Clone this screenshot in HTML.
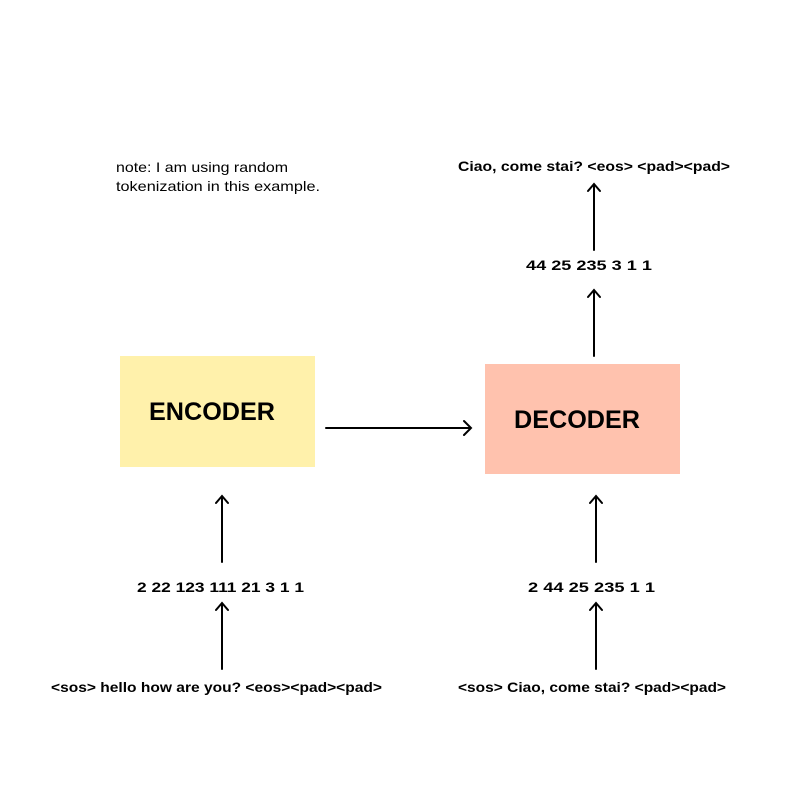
<!DOCTYPE html>
<html><head><meta charset="utf-8"><style>html,body{margin:0;padding:0;background:#fff}</style></head>
<body>
<svg width="802" height="802" viewBox="0 0 802 802" xmlns="http://www.w3.org/2000/svg" font-family="Liberation Sans, sans-serif">
<rect width="802" height="802" fill="#fff"/>
<rect x="120" y="356" width="195" height="111" fill="#fff1ab"/>
<rect x="485" y="364" width="195" height="110" fill="#ffc2ae"/>
<text x="149" y="420" font-size="25" font-weight="bold" textLength="126" lengthAdjust="spacingAndGlyphs">ENCODER</text>
<text x="514" y="428" font-size="25" font-weight="bold" textLength="126" lengthAdjust="spacingAndGlyphs">DECODER</text>
<g stroke="#000" stroke-width="2" fill="none" stroke-linecap="round">
<path d="M326 428H471M464 421L471 428L464 435"/>
<path d="M222 562V496M216 503L222 496L228 503"/>
<path d="M222 669V603M216 610L222 603L228 610"/>
<path d="M596 562V496M590 503L596 496L602 503"/>
<path d="M596 669V603M590 610L596 603L602 610"/>
<path d="M594 356V290M588 297L594 290L600 297"/>
<path d="M594 250V184M588 191L594 184L600 191"/>
</g>
<g font-size="14" font-weight="bold">
<text x="458" y="171" textLength="272" lengthAdjust="spacingAndGlyphs">Ciao, come stai? &lt;eos&gt;  &lt;pad&gt;&lt;pad&gt;</text>
<text x="526" y="270" textLength="126" lengthAdjust="spacingAndGlyphs">44  25  235  3  1  1</text>
<text x="137" y="592" textLength="167" lengthAdjust="spacingAndGlyphs">2  22  123  111  21  3  1  1</text>
<text x="528" y="592" textLength="127" lengthAdjust="spacingAndGlyphs">2  44  25  235  1  1</text>
<text x="51" y="692" textLength="331" lengthAdjust="spacingAndGlyphs">&lt;sos&gt; hello how are you? &lt;eos&gt;&lt;pad&gt;&lt;pad&gt;</text>
<text x="458" y="692" textLength="268" lengthAdjust="spacingAndGlyphs">&lt;sos&gt; Ciao, come stai? &lt;pad&gt;&lt;pad&gt;</text>
</g>
<g font-size="14">
<text x="116" y="172" textLength="172" lengthAdjust="spacingAndGlyphs">note: I am using random</text>
<text x="116" y="191" textLength="204" lengthAdjust="spacingAndGlyphs">tokenization in this example.</text>
</g>
</svg>
</body></html>
